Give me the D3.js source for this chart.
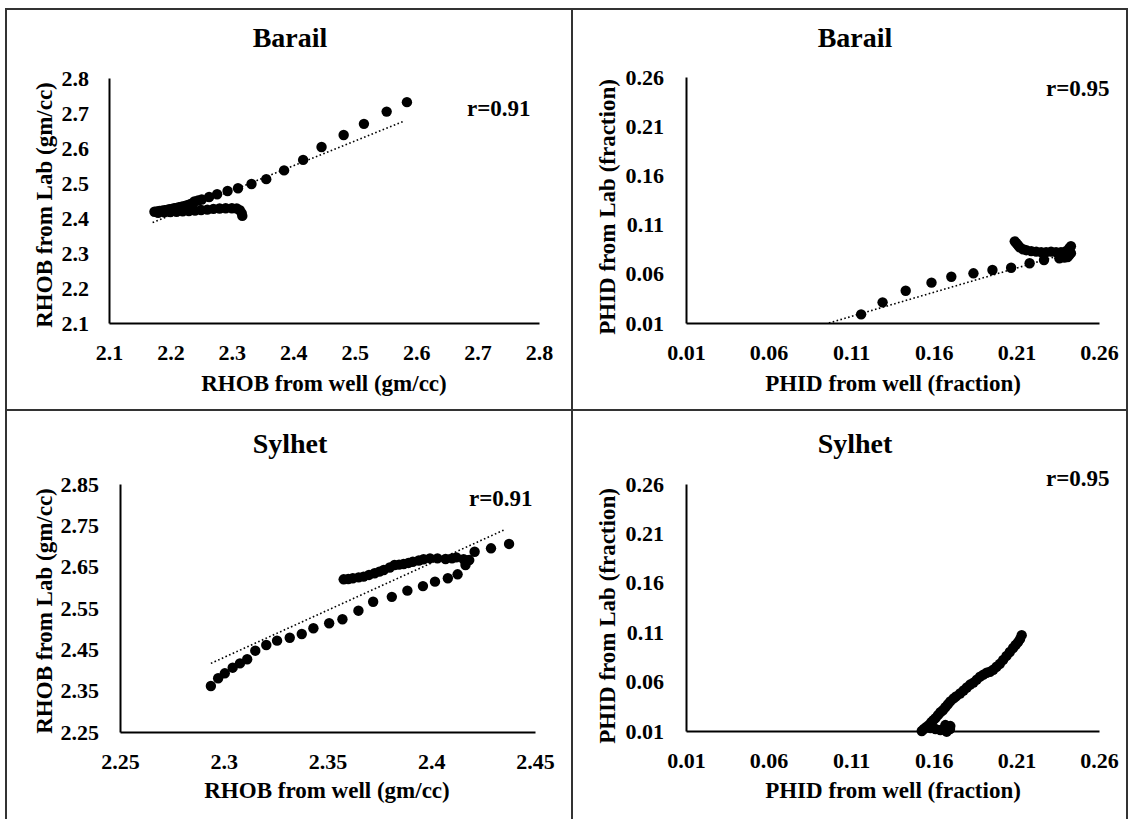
<!DOCTYPE html>
<html lang="en">
<head>
  <meta charset="UTF-8" />
  <title>RHOB / PHID well vs lab</title>
  <script src="https://d3js.org/d3.v7.min.js"></script>
  <style>
    body { margin: 0; background: #fff; }
    svg text { font-family: "Liberation Serif", "Times New Roman", serif; font-weight: bold; fill: #000; }
    .tick text { font-size: 22px; }
    .domain { stroke: #000; stroke-width: 2px; }
  </style>
</head>
<body>
  <svg width="1129" height="819"></svg>

  <script>
    // Barail - RHOB
    const barailRhobWell = [2.174, 2.178, 2.182, 2.186, 2.190, 2.194, 2.198, 2.202, 2.206, 2.210, 2.214, 2.218, 2.222, 2.226, 2.230, 2.234, 2.239, 2.245, 2.251, 2.263, 2.276, 2.293, 2.310, 2.332, 2.356, 2.385, 2.416, 2.446, 2.482, 2.515, 2.552, 2.585,
      2.180, 2.190, 2.200, 2.210, 2.220, 2.230, 2.240, 2.250, 2.260, 2.270, 2.280, 2.290, 2.300, 2.308, 2.313, 2.316, 2.317];
    const barailRhobLab = [2.418, 2.419, 2.420, 2.421, 2.422, 2.423, 2.425, 2.426, 2.428, 2.429, 2.431, 2.432, 2.434, 2.436, 2.438, 2.441, 2.447, 2.450, 2.453, 2.460, 2.468, 2.477, 2.485, 2.497, 2.511, 2.536, 2.566, 2.603, 2.637, 2.669, 2.704, 2.731,
      2.415, 2.416, 2.417, 2.418, 2.419, 2.420, 2.421, 2.423, 2.424, 2.426, 2.427, 2.428, 2.428, 2.427, 2.422, 2.414, 2.406];
    const barailRhobTrend = { x: [2.171, 2.578], y: [2.387, 2.675] };

    // Barail - PHID
    const barailPhidWell = [0.116, 0.129, 0.143, 0.1586, 0.1706, 0.184, 0.1955, 0.2068, 0.218, 0.2267, 0.236,
      0.209, 0.210, 0.211, 0.212, 0.214, 0.216, 0.219, 0.222, 0.225, 0.228, 0.231, 0.234, 0.237, 0.240, 0.242, 0.243, 0.243, 0.242, 0.241, 0.239];
    const barailPhidLab = [0.0188, 0.031, 0.0428, 0.051, 0.057, 0.0605, 0.0639, 0.0662, 0.0707, 0.074, 0.0757,
      0.093, 0.091, 0.089, 0.087, 0.085, 0.084, 0.083, 0.0825, 0.082, 0.082, 0.0825, 0.082, 0.082, 0.083, 0.086, 0.088, 0.081, 0.079, 0.077, 0.0765];
    const barailPhidTrend = { x: [0.0965, 0.243], y: [0.010, 0.082] };

    // Sylhet - RHOB
    const sylhetRhobWell = [2.2938, 2.2973, 2.3005, 2.3043, 2.3078, 2.3113, 2.3152, 2.3205, 2.3257, 2.3318, 2.3376, 2.3432, 2.3508, 2.3572, 2.3649, 2.3720, 2.3810, 2.3885, 2.3960, 2.4018, 2.4080, 2.4127, 2.4165, 2.4183, 2.4209, 2.4288, 2.4375,
      2.3578, 2.3600, 2.3622, 2.3650, 2.3674, 2.3700, 2.3727, 2.3750, 2.3771, 2.3800, 2.3823, 2.3845, 2.3867, 2.3890, 2.3911, 2.3940, 2.3963, 2.3994, 2.4030, 2.4069, 2.4100, 2.4121, 2.4156, 2.4175];
    const sylhetRhobLab = [2.3613, 2.3800, 2.3920, 2.4056, 2.4160, 2.4260, 2.4467, 2.4605, 2.4710, 2.4780, 2.4870, 2.5010, 2.5130, 2.5227, 2.5435, 2.5650, 2.5770, 2.5920, 2.6030, 2.6137, 2.6220, 2.6315, 2.6540, 2.6660, 2.6860, 2.6944, 2.7050,
      2.6194, 2.6200, 2.6220, 2.6240, 2.6260, 2.6300, 2.6340, 2.6380, 2.6420, 2.6480, 2.6540, 2.6550, 2.6565, 2.6590, 2.6620, 2.6650, 2.6680, 2.6700, 2.6700, 2.6685, 2.6700, 2.6726, 2.6680, 2.6650];
    const sylhetRhobTrend = { x: [2.2938, 2.4358], y: [2.416, 2.7405] };

    // Sylhet - PHID
    const sylhetPhidWell = [0.1527, 0.1540, 0.1555, 0.1570, 0.1585, 0.1597, 0.1610, 0.1625, 0.1640, 0.1655, 0.1670, 0.1685, 0.1700, 0.1720, 0.1735, 0.1759, 0.1780, 0.1800, 0.1820, 0.1840, 0.1860, 0.1880, 0.1900, 0.1920, 0.1940, 0.1960, 0.1980, 0.2000, 0.2020, 0.2040, 0.2060, 0.2080, 0.2095, 0.2110, 0.2122, 0.2132,
      0.1580, 0.1610, 0.1640, 0.1678, 0.1698, 0.1700, 0.1670];
    const sylhetPhidLab = [0.0100, 0.0120, 0.0140, 0.0160, 0.0190, 0.0210, 0.0230, 0.0260, 0.0290, 0.0310, 0.0340, 0.0370, 0.0400, 0.0430, 0.0450, 0.0480, 0.0510, 0.0540, 0.0570, 0.0590, 0.0620, 0.0650, 0.0670, 0.0690, 0.0700, 0.0720, 0.0750, 0.0780, 0.0820, 0.0860, 0.0900, 0.0940, 0.0970, 0.1000, 0.1030, 0.1070,
      0.0130, 0.0120, 0.0110, 0.0093, 0.0120, 0.0150, 0.0160];

    // tick labels
    const rhobBarailTicks = ["2.1", "2.2", "2.3", "2.4", "2.5", "2.6", "2.7", "2.8"];
    const phidTicks = ["0.01", "0.06", "0.11", "0.16", "0.21", "0.26"];
    const rhobSylhetXTicks = ["2.25", "2.3", "2.35", "2.4", "2.45"];
    const rhobSylhetYTicks = ["2.25", "2.35", "2.45", "2.55", "2.65", "2.75", "2.85"];

    const svg = d3.select("svg");

    // frame
    const frame = svg.append("g").attr("stroke", "#333").attr("stroke-width", 2).attr("fill", "none");
    frame.append("rect").attr("x", 6).attr("y", 9).attr("width", 1121).attr("height", 812);
    frame.append("line").attr("x1", 572).attr("x2", 572).attr("y1", 9).attr("y2", 819);
    frame.append("line").attr("x1", 6).attr("x2", 1127).attr("y1", 410).attr("y2", 410);

    const panels = [
      { title: "Barail", titleX: 290, titleY: 47, x0: 109, x1: 539, y0: 323, y1: 78,
        xDom: [2.1, 2.8], yDom: [2.1, 2.8], xTicks: rhobBarailTicks, yTicks: rhobBarailTicks,
        xs: barailRhobWell, ys: barailRhobLab, trend: barailRhobTrend,
        xLabel: "RHOB from well (gm/cc)", xLabelX: 324, xLabelY: 391,
        yLabel: "RHOB from Lab (gm/cc)", yLabelX: 44, yLabelY: 205,
        r: "r=0.91", rX: 467, rY: 116, yPad: 20 },
      { title: "Barail", titleX: 855, titleY: 47, x0: 686, x1: 1099, y0: 323, y1: 77,
        xDom: [0.01, 0.26], yDom: [0.01, 0.26], xTicks: phidTicks, yTicks: phidTicks,
        xs: barailPhidWell, ys: barailPhidLab, trend: barailPhidTrend,
        xLabel: "PHID from well (fraction)", xLabelX: 893, xLabelY: 391,
        yLabel: "PHID from Lab (fraction)", yLabelX: 607, yLabelY: 207,
        r: "r=0.95", rX: 1046, rY: 96, yPad: 22 },
      { title: "Sylhet", titleX: 290, titleY: 453, x0: 120, x1: 535, y0: 732, y1: 484,
        xDom: [2.25, 2.45], yDom: [2.25, 2.85], xTicks: rhobSylhetXTicks, yTicks: rhobSylhetYTicks,
        xs: sylhetRhobWell, ys: sylhetRhobLab, trend: sylhetRhobTrend,
        xLabel: "RHOB from well (gm/cc)", xLabelX: 327, xLabelY: 798,
        yLabel: "RHOB from Lab (gm/cc)", yLabelX: 44, yLabelY: 611,
        r: "r=0.91", rX: 469, rY: 506, yPad: 21 },
      { title: "Sylhet", titleX: 855, titleY: 453, x0: 686, x1: 1099, y0: 731, y1: 484,
        xDom: [0.01, 0.26], yDom: [0.01, 0.26], xTicks: phidTicks, yTicks: phidTicks,
        xs: sylhetPhidWell, ys: sylhetPhidLab, trend: null,
        xLabel: "PHID from well (fraction)", xLabelX: 893, xLabelY: 798,
        yLabel: "PHID from Lab (fraction)", yLabelX: 607, yLabelY: 616,
        r: "r=0.95", rX: 1046, rY: 486, yPad: 22 }
    ];

    panels.forEach(p => {
      const x = d3.scaleLinear().domain(p.xDom).range([p.x0, p.x1]);
      const y = d3.scaleLinear().domain(p.yDom).range([p.y0, p.y1]);
      const g = svg.append("g");

      g.append("text").attr("x", p.titleX).attr("y", p.titleY)
        .attr("text-anchor", "middle").style("font-size", "28px").text(p.title);

      g.append("g").attr("transform", `translate(0,${p.y0})`)
        .call(d3.axisBottom(x).tickValues(p.xTicks.map(Number)).tickSize(0).tickSizeOuter(0)
          .tickPadding(21).tickFormat((d, i) => p.xTicks[i]));
      g.append("g").attr("transform", `translate(${p.x0},0)`)
        .call(d3.axisLeft(y).tickValues(p.yTicks.map(Number)).tickSize(0).tickSizeOuter(0)
          .tickPadding(p.yPad).tickFormat((d, i) => p.yTicks[i]));

      if (p.trend) {
        g.append("line")
          .attr("x1", x(p.trend.x[0])).attr("y1", y(p.trend.y[0]))
          .attr("x2", x(p.trend.x[1])).attr("y2", y(p.trend.y[1]))
          .attr("stroke", "#000").attr("stroke-width", 1.6).attr("stroke-dasharray", "1.6,2.4");
      }

      g.selectAll("circle").data(p.xs).enter().append("circle")
        .attr("cx", d => x(d)).attr("cy", (d, i) => y(p.ys[i]))
        .attr("r", 5.2).attr("fill", "#000");

      g.append("text").attr("x", p.xLabelX).attr("y", p.xLabelY)
        .attr("text-anchor", "middle").style("font-size", "23px").text(p.xLabel);
      g.append("text").attr("transform", `translate(${p.yLabelX},${p.yLabelY}) rotate(-90)`)
        .attr("text-anchor", "middle").attr("dy", "0.35em").style("font-size", "23px").text(p.yLabel);
      g.append("text").attr("x", p.rX).attr("y", p.rY).style("font-size", "23px").text(p.r);
    });
  </script>
</body>
</html>
